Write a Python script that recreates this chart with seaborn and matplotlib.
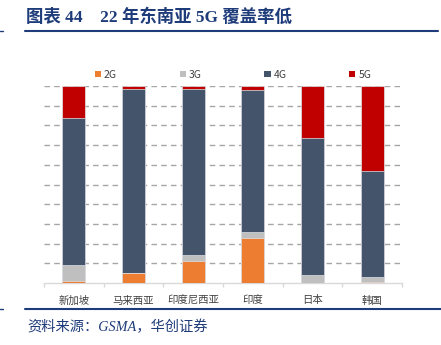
import matplotlib
matplotlib.use("Agg")
import matplotlib.pyplot as plt
import seaborn as sns
import numpy as np
import pandas as pd
from matplotlib.lines import Line2D
from matplotlib.patches import Patch

# Network coverage share by generation (%)
countries = ["新加坡", "马来西亚", "印度尼西亚", "印度", "日本", "韩国"]
share_2g = [1.0, 5.0, 11.0, 23.0, 0.0, 0.6]
share_3g = [8.0, 0.0, 3.0, 2.7, 4.0, 2.6]
share_4g = [75.0, 93.5, 84.5, 72.3, 69.8, 53.7]
share_5g = [16.0, 1.5, 1.5, 2.0, 26.2, 43.1]
series_names = ["2G", "3G", "4G", "5G"]
series_colors = ["#ED7D31", "#BFBFBF", "#44546A", "#C00000"]

sns.set_theme(style="white")
plt.rcParams["font.family"] = ["Noto Sans CJK SC", "DejaVu Sans"]

df = pd.DataFrame({"country": countries, "2G": share_2g, "3G": share_3g,
                   "4G": share_4g, "5G": share_5g})
cum = df[series_names].cumsum(axis=1)

fig = plt.figure(figsize=(4.41, 3.45), dpi=100)
ax = fig.add_axes([44 / 441, 1 - 283 / 345, 358 / 441, 197 / 345])

# stacked bars: draw cumulative totals from the top segment down
for name, color in reversed(list(zip(series_names, series_colors))):
    sns.barplot(data=cum.assign(country=countries), x="country", y=name,
                color=color, width=0.38, ax=ax, saturation=1,
                edgecolor="#dfe3e8", linewidth=0.5, zorder=3)

ax.set_ylim(0, 100)
ax.set_xlim(-0.5, len(countries) - 0.5)
ax.set_yticks(np.arange(10, 101, 10))
ax.yaxis.grid(True, linestyle=(0, (4, 3)), color="#a6a6a6", linewidth=1.0, zorder=0)
ax.xaxis.grid(False)
ax.tick_params(axis="y", left=False, labelleft=False)
ax.set_xlabel("")
ax.set_ylabel("")
for side in ["top", "right", "left"]:
    ax.spines[side].set_visible(False)
ax.spines["bottom"].set_color("#d9d9d9")
ax.spines["bottom"].set_linewidth(1.0)

# category separators on the baseline
ax.set_xticks(np.arange(-0.5, len(countries), 1.0), minor=True)
ax.tick_params(axis="x", which="minor", bottom=True, length=3, color="#d9d9d9", width=1)
ax.tick_params(axis="x", which="major", bottom=False, labelsize=7.5,
               labelcolor="#404040", pad=3)

handles = [Patch(facecolor=c, edgecolor="none", label=n)
           for n, c in zip(series_names, series_colors)]
ax.legend(handles=handles, loc="lower center", bbox_to_anchor=(0.528, 0.985),
          ncol=4, frameon=False, fontsize=7.5, handlelength=0.6, handleheight=0.6,
          handletextpad=0.3, columnspacing=6.0, labelcolor="#404040")

title_color = "#1F3C7A"
fig.text(26 / 441, 1 - 17 / 345, "图表 44    22 年东南亚 5G 覆盖率低",
         fontsize=12.5, fontweight="bold", color=title_color, va="center",
         family=["Liberation Serif", "Noto Sans CJK SC"])
fig.add_artist(Line2D([25 / 441, 438 / 441], [1 - 31 / 345] * 2,
                      color=title_color, linewidth=1.5))
fig.add_artist(Line2D([0, 3 / 441], [1 - 31 / 345] * 2,
                      color=title_color, linewidth=1.0))
fig.add_artist(Line2D([25 / 441, 1.0], [1 - 309 / 345] * 2,
                      color=title_color, linewidth=1.5))
fig.add_artist(Line2D([0, 3 / 441], [1 - 309 / 345] * 2,
                      color=title_color, linewidth=1.0))
fig.text(27 / 441, 1 - 327 / 345, "资料来源：GSMA，华创证券", fontsize=10.3,
         color=title_color, style="italic", va="center",
         family=["Liberation Serif", "Noto Sans CJK SC"])

fig.savefig("out.png", dpi=100)
